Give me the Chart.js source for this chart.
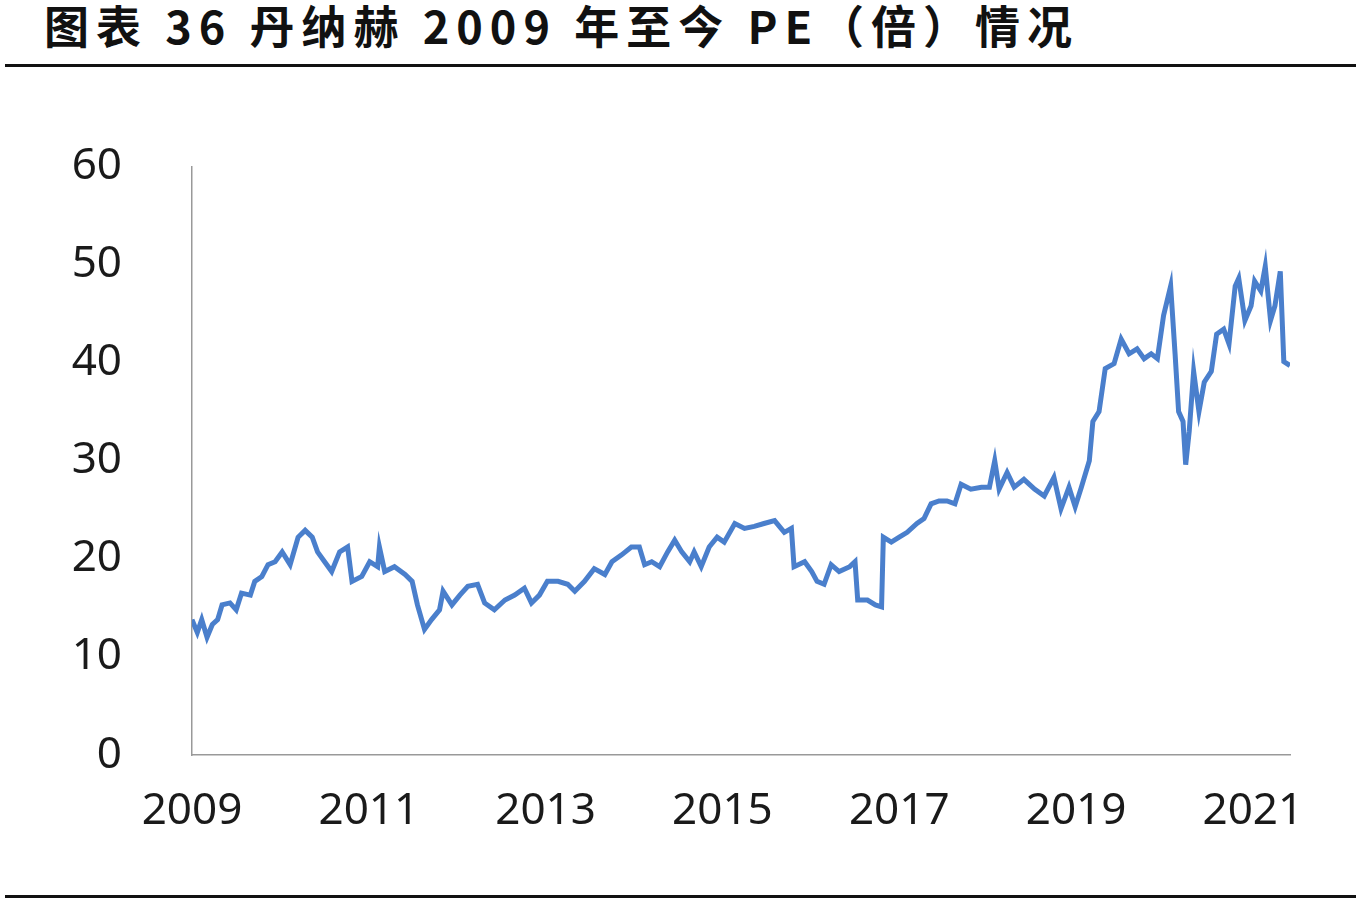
<!DOCTYPE html>
<html><head><meta charset="utf-8">
<script src="https://cdn.jsdelivr.net/npm/chart.js@4"></script>
<style>
body{margin:0;background:#fff;width:1356px;height:906px;overflow:hidden;position:relative;font-family:"Noto Sans CJK SC","Noto Sans",sans-serif}
#title{position:absolute;left:44px;top:-8px;font-size:45px;font-weight:bold;color:#111;white-space:nowrap;letter-spacing:7px}
.rule{position:absolute;left:5px;right:0;height:3px;background:#111}
#wrap{position:absolute;left:0;top:70px;width:1356px;height:820px}
</style></head><body>
<div id="title">图表 36 丹纳赫 2009 年至今 PE（倍）情况</div>
<div class="rule" style="top:64px"></div>
<div class="rule" style="top:895px"></div>
<div id="wrap"><canvas id="c"></canvas></div>
<script>
// years after 2009 and PE values
const yearOffsets = [0,.06,.11,.17,.23,.29,.34,.43,.50,.56,.66,.71,.79,.86,.94,1.02,1.11,1.20,1.28,1.36,1.42,1.50,1.58,1.67,1.76,1.81,1.92,2.01,2.10,2.12,2.18,2.29,2.41,2.49,2.55,2.63,2.71,2.80,2.84,2.94,3.03,3.12,3.23,3.31,3.42,3.54,3.65,3.76,3.84,3.93,4.02,4.14,4.25,4.33,4.44,4.55,4.67,4.75,4.86,4.97,5.06,5.12,5.20,5.29,5.38,5.46,5.54,5.63,5.68,5.76,5.85,5.94,6.02,6.14,6.25,6.36,6.47,6.59,6.70,6.78,6.81,6.93,7.01,7.07,7.15,7.23,7.32,7.44,7.50,7.53,7.64,7.73,7.80,7.82,7.91,8.00,8.09,8.20,8.28,8.36,8.45,8.54,8.63,8.70,8.81,8.93,9.02,9.08,9.13,9.22,9.30,9.41,9.53,9.64,9.75,9.83,9.92,9.99,10.06,10.15,10.19,10.26,10.33,10.43,10.51,10.60,10.69,10.77,10.85,10.92,10.99,11.07,11.12,11.16,11.21,11.24,11.28,11.33,11.39,11.45,11.53,11.59,11.67,11.73,11.80,11.84,11.91,11.98,12.02,12.09,12.14,12.20,12.25,12.31,12.35,12.42];
const peValues = [13.8,12.5,13.8,12,13.3,13.8,15.3,15.5,14.8,16.5,16.3,17.7,18.2,19.4,19.7,20.7,19.4,22.2,22.9,22.2,20.7,19.7,18.7,20.7,21.2,17.7,18.2,19.7,19.2,21.2,18.7,19.2,18.4,17.7,15.3,12.8,13.8,14.8,16.7,15.3,16.3,17.2,17.4,15.5,14.8,15.8,16.3,17,15.5,16.3,17.7,17.7,17.4,16.7,17.7,19,18.4,19.7,20.4,21.2,21.2,19.4,19.7,19.2,20.7,21.9,20.7,19.7,20.7,19.2,21.2,22.2,21.7,23.6,23.1,23.3,23.6,23.9,22.7,23.1,19.2,19.7,18.7,17.7,17.4,19.4,18.7,19.2,19.7,15.8,15.8,15.3,15.1,22.2,21.7,22.2,22.7,23.6,24.1,25.6,25.9,25.9,25.6,27.6,27.1,27.3,27.3,30,27.1,28.8,27.3,28.1,27.1,26.4,28.3,25.1,27.3,25.3,27.3,30,34,35,39.4,39.9,42.4,40.9,41.4,40.4,40.9,40.4,44.8,47.8,40.9,35,34,29.6,33,39.1,35,38,39.1,42.9,43.4,41.9,47.8,48.6,44.3,45.8,48.3,47.3,49.8,44.3,45.8,49.3,40.1,39.7];
const yTicks = [0,10,20,30,40,50,60];
const xTicks = [2009,2011,2013,2015,2017,2019,2021];

const points = yearOffsets.map((t,i)=>({x:2009+t,y:peValues[i]}));
const tickFont = {family:'"Noto Sans", sans-serif', size:44};
new Chart(document.getElementById('c'),{
  type:'line',
  data:{datasets:[{data:points,borderColor:'#4a7fcc',borderWidth:5,pointRadius:0,tension:0}]},
  options:{
    responsive:true,maintainAspectRatio:false,animation:false,
    layout:{padding:{top:57,right:66,left:0,bottom:0}},
    plugins:{legend:{display:false},tooltip:{enabled:false}},
    scales:{
      x:{type:'linear',min:2009,max:2021.42,
        afterBuildTicks:s=>{s.ticks=xTicks.map(v=>({value:v}));},
        afterFit:s=>{s.height=135;},
        grid:{display:false,drawTicks:false},border:{color:'#999',width:1.5},
        ticks:{font:tickFont,color:'#1a1a1a',padding:30,maxRotation:0,autoSkip:false,callback:v=>String(v)}},
      y:{min:0,max:60,
        afterBuildTicks:s=>{s.ticks=yTicks.map(v=>({value:v}));},
        afterFit:s=>{s.width=192;},
        grid:{display:false,drawTicks:false},border:{color:'#999',width:1.5},
        ticks:{font:tickFont,color:'#1a1a1a',padding:70}}
    }
  }
});
</script>
</body></html>
